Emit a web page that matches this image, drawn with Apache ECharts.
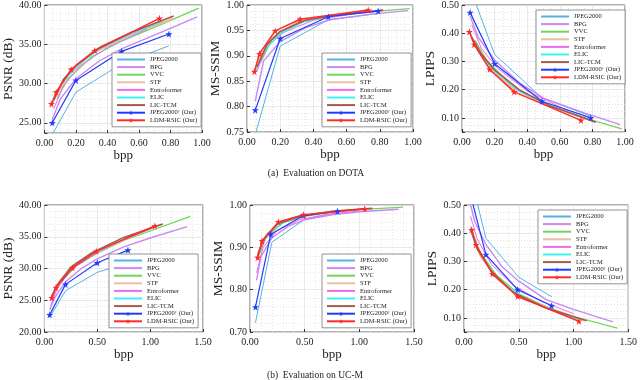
<!DOCTYPE html>
<html>
<head>
<meta charset="utf-8">
<script src="https://cdn.jsdelivr.net/npm/echarts@6/dist/echarts.min.js"></script>
<style>html,body{margin:0;padding:0;background:#fff}#main{width:640px;height:380px}</style>
</head>
<body>
<div id="main"></div>
<script>
// methods, in legend order
var methods = ['JPEG2000','BPG','VVC','STF','Entroformer','ELIC','LIC-TCM','JPEG2000† (Our)','LDM-RSIC (Our)'];
var colors  = ['#55b3e0','#c889f2','#6fd65a','#e6bfa6','#ee6bee','#3ff0f0','#a65a4c','#1f3cff','#ff2a2a'];
var widths  = [1, 1.4, 1.2, 2, 1, 1.3, 1.6, 1.2, 1.5];

// (a) DOTA -- [bpp, value] per method
var dotaPsnr = [
    [[0.05,23.5],[0.2,28.9],[0.49,32.5],[0.79,34.8]],
    [[0.05,25.4],[0.1,28.0],[0.2,30.6],[0.35,32.9],[0.5,34.5],[0.75,36.6],[0.97,38.5]],
    [[0.08,28.1],[0.15,30.6],[0.3,33.4],[0.5,35.5],[0.75,37.6],[0.98,39.6]],
    [[0.07,28.4],[0.15,31.0],[0.3,33.8],[0.5,35.8],[0.82,38.3]],
    [[0.06,26.8],[0.12,29.7],[0.22,32.1],[0.4,34.6],[0.65,36.9]],
    [[0.05,27.3],[0.1,29.7],[0.2,32.1],[0.35,34.4],[0.55,36.3],[0.75,37.9]],
    [[0.06,27.9],[0.12,30.5],[0.2,32.3],[0.35,34.6],[0.55,36.5],[0.82,38.6]],
    [[0.05,25.0],[0.2,30.4],[0.49,34.1],[0.79,36.3]],
    [[0.045,27.4],[0.075,28.9],[0.17,31.8],[0.32,34.2],[0.73,38.3]]
];
var dotaSsim = [
    [[0.05,0.745],[0.2,0.919],[0.49,0.971],[0.79,0.983]],
    [[0.05,0.811],[0.1,0.89],[0.2,0.928],[0.35,0.955],[0.5,0.971],[0.75,0.982],[0.97,0.989]],
    [[0.08,0.886],[0.15,0.932],[0.3,0.964],[0.5,0.978],[0.75,0.987],[0.98,0.993]],
    [[0.07,0.89],[0.15,0.935],[0.3,0.966],[0.5,0.979],[0.82,0.989]],
    [[0.06,0.87],[0.12,0.918],[0.22,0.946],[0.4,0.97],[0.65,0.983]],
    [[0.05,0.868],[0.1,0.908],[0.2,0.944],[0.35,0.968],[0.55,0.98],[0.75,0.987]],
    [[0.06,0.878],[0.12,0.922],[0.2,0.948],[0.35,0.97],[0.55,0.981],[0.82,0.99]],
    [[0.05,0.793],[0.2,0.934],[0.49,0.977],[0.79,0.988]],
    [[0.045,0.869],[0.075,0.904],[0.17,0.949],[0.32,0.972],[0.73,0.99]]
];
var dotaLpips = [
    [[0.05,0.56],[0.2,0.325],[0.49,0.171],[0.79,0.106]],
    [[0.05,0.46],[0.1,0.385],[0.2,0.305],[0.35,0.225],[0.5,0.17],[0.75,0.118],[0.97,0.076]],
    [[0.08,0.375],[0.15,0.305],[0.3,0.215],[0.5,0.152],[0.75,0.1],[0.98,0.061]],
    [[0.07,0.37],[0.15,0.295],[0.3,0.21],[0.5,0.15],[0.82,0.086]],
    [[0.06,0.43],[0.12,0.345],[0.22,0.275],[0.4,0.195],[0.65,0.125]],
    [[0.05,0.4],[0.1,0.335],[0.2,0.265],[0.35,0.195],[0.55,0.142],[0.75,0.1]],
    [[0.06,0.385],[0.12,0.325],[0.2,0.27],[0.35,0.2],[0.55,0.14],[0.82,0.085]],
    [[0.05,0.473],[0.2,0.292],[0.49,0.159],[0.79,0.1]],
    [[0.045,0.405],[0.075,0.36],[0.17,0.272],[0.32,0.192],[0.73,0.091]]
];

// (b) UC-M
var ucmPsnr = [
    [[0.05,22.3],[0.2,26.5],[0.5,29.4],[0.8,30.9]],
    [[0.05,23.5],[0.1,25.5],[0.2,27.9],[0.35,30.0],[0.5,31.5],[0.75,33.4],[1.0,34.8],[1.35,36.6]],
    [[0.08,25.8],[0.15,27.8],[0.3,30.4],[0.5,32.4],[0.75,34.4],[1.0,35.9],[1.38,38.2]],
    [[0.07,25.5],[0.15,28.0],[0.3,30.8],[0.5,32.6],[0.8,34.9],[1.1,36.9]],
    [[0.06,24.2],[0.12,26.8],[0.25,29.8],[0.45,32.0],[0.7,34.2],[1.0,36.2]],
    [[0.06,25.0],[0.1,26.8],[0.2,29.0],[0.35,31.3],[0.55,33.0],[0.8,35.0],[1.05,36.6]],
    [[0.07,25.6],[0.12,27.4],[0.25,30.2],[0.45,32.5],[0.75,34.9],[1.12,37.0]],
    [[0.05,22.7],[0.2,27.5],[0.5,30.9],[0.79,32.9]],
    [[0.07,25.4],[0.11,27.0],[0.265,30.1],[0.49,32.7],[1.045,36.7]]
];
var ucmSsim = [
    [[0.05,0.722],[0.2,0.912],[0.5,0.966],[0.8,0.982]],
    [[0.06,0.822],[0.1,0.878],[0.2,0.922],[0.35,0.95],[0.5,0.965],[0.75,0.977],[1.0,0.984],[1.36,0.99]],
    [[0.08,0.88],[0.15,0.925],[0.3,0.958],[0.5,0.973],[0.75,0.983],[1.0,0.989],[1.4,0.995]],
    [[0.07,0.885],[0.15,0.93],[0.3,0.962],[0.5,0.976],[0.8,0.986],[1.1,0.991]],
    [[0.06,0.84],[0.12,0.9],[0.25,0.94],[0.45,0.965],[0.7,0.978],[1.0,0.986]],
    [[0.06,0.87],[0.1,0.905],[0.2,0.942],[0.35,0.964],[0.55,0.977],[0.8,0.985],[1.05,0.99]],
    [[0.07,0.88],[0.12,0.917],[0.25,0.955],[0.45,0.973],[0.75,0.985],[1.12,0.992]],
    [[0.05,0.759],[0.19,0.931],[0.49,0.975],[0.8,0.985]],
    [[0.07,0.876],[0.11,0.915],[0.26,0.96],[0.49,0.977],[1.05,0.991]]
];
var ucmLpips = [
    [[0.05,0.62],[0.2,0.382],[0.5,0.244],[0.8,0.175]],
    [[0.06,0.5],[0.1,0.44],[0.2,0.36],[0.35,0.28],[0.5,0.23],[0.75,0.165],[1.0,0.13],[1.36,0.086]],
    [[0.08,0.4],[0.15,0.33],[0.3,0.25],[0.5,0.185],[0.75,0.14],[1.0,0.105],[1.4,0.064]],
    [[0.07,0.4],[0.15,0.32],[0.3,0.24],[0.5,0.18],[0.8,0.128],[1.1,0.092]],
    [[0.06,0.46],[0.12,0.38],[0.25,0.29],[0.45,0.215],[0.7,0.16],[1.0,0.115]],
    [[0.06,0.423],[0.1,0.36],[0.2,0.295],[0.35,0.225],[0.55,0.17],[0.8,0.128],[1.05,0.095]],
    [[0.07,0.405],[0.12,0.345],[0.25,0.265],[0.45,0.19],[0.75,0.135],[1.12,0.09]],
    [[0.05,0.55],[0.2,0.324],[0.49,0.2],[0.8,0.143]],
    [[0.07,0.412],[0.11,0.359],[0.26,0.256],[0.49,0.176],[1.05,0.088]]
];

var FONT = 'Liberation Serif';
var STAR = 'path://M0,-10L2.35,-3.24L9.51,-3.09L3.8,1.24L5.88,8.09L0,4L-5.88,8.09L-3.8,1.24L-9.51,-3.09L-2.35,-3.24Z';

// one entry per subplot: grid box, axes, legend corner
var panels = [
    {data: dotaPsnr,  box: [39, 4, 163, 129],  xmax: 1,   xint: 0.2, xminor: 4, yname: 'PSNR (dB)', ymin: 23.7, ymax: 40, ysplit: 3, yminor: 5, gap: 25, leg: [112, 53]},
    {data: dotaSsim,  box: [247, 4, 166, 128], xmax: 1,   xint: 0.2, xminor: 4, yname: 'MS-SSIM', ymin: 0.75, ymax: 1, yint: 0.05, yminor: 4, gap: 21.5, leg: [322, 53]},
    {data: dotaLpips, box: [462, 4, 163, 128], xmax: 1,   xint: 0.2, xminor: 4, yname: 'LPIPS', ymin: 0.05, ymax: 0.5, ysplit: 5, yminor: 4, gap: 18.5, leg: [536, 10]},
    {data: ucmPsnr,   box: [39, 205, 164, 127], xmax: 1.5, xint: 0.5, xminor: 5, yname: 'PSNR (dB)', ymin: 20, ymax: 40, yint: 5, yminor: 5, gap: 25, leg: [109, 254]},
    {data: ucmSsim,   box: [250, 205, 164, 127], xmax: 1.5, xint: 0.5, xminor: 5, yname: 'MS-SSIM', ymin: 0.7, ymax: 1, yint: 0.1, yminor: 5, gap: 21.5, leg: [322, 254]},
    {data: ucmLpips,  box: [464, 205, 165, 127], xmax: 1.5, xint: 0.5, xminor: 5, yname: 'LPIPS', ymin: 0.05, ymax: 0.5, ysplit: 5, yminor: 4, gap: 20.5, leg: [538, 210]}
];

var grid = [], xAxis = [], yAxis = [], legend = [], series = [];
var majorLine = {show: true, lineStyle: {color: '#e3e3e3', width: 0.8}};
var minorLine = {show: true, lineStyle: {color: '#dadada', width: 0.7, type: [1, 2]}};
var fix2 = function (v) { return v.toFixed(2); };

// legend entries: plain lines hide the default round marker
var legendData = methods.map(function (n, k) {
    return k >= 7 ? n : {name: n, itemStyle: {opacity: 0}};
});

panels.forEach(function (p, g) {
    grid.push({left: p.box[0], top: p.box[1], width: p.box[2], height: p.box[3],
        show: true, borderColor: '#3a3a3a', borderWidth: 0.8, backgroundColor: '#fff'});
    xAxis.push({
        type: 'value', gridIndex: g, min: 0, max: p.xmax, interval: p.xint,
        name: 'bpp', nameLocation: 'middle', nameGap: 16,
        nameTextStyle: {fontFamily: FONT, fontSize: 13, color: '#222'},
        axisLine: {show: false},
        axisTick: {inside: true, length: 3, lineStyle: {color: '#333'}},
        minorTick: {show: true, splitNumber: p.xminor, length: 0},
        axisLabel: {formatter: fix2, fontFamily: FONT, fontSize: 10, color: '#222', margin: 5},
        splitLine: majorLine, minorSplitLine: minorLine
    });
    var ya = {
        type: 'value', gridIndex: g, min: p.ymin, max: p.ymax,
        name: p.yname, nameLocation: 'middle', nameGap: p.gap,
        nameTextStyle: {fontFamily: FONT, fontSize: 13.5, color: '#222'},
        axisLine: {show: false},
        axisTick: {inside: true, length: 3, lineStyle: {color: '#333'}},
        minorTick: {show: true, splitNumber: p.yminor, length: 0},
        axisLabel: {formatter: fix2, fontFamily: FONT, fontSize: 10, color: '#222', margin: 3, showMinLabel: !p.ysplit},
        splitLine: majorLine, minorSplitLine: minorLine
    };
    if (p.yint) ya.interval = p.yint; else ya.splitNumber = p.ysplit;
    yAxis.push(ya);

    legend.push({
        orient: 'vertical', left: p.leg[0], top: p.leg[1], data: legendData,
        itemWidth: 28, itemHeight: 6, itemGap: 0.6, padding: [3, 4, 3, 4],
        borderColor: '#777', borderWidth: 0.8, backgroundColor: '#fff',
        selectedMode: false,
        formatter: function (n) { return n.replace('†', '{s|†}'); },
        textStyle: {fontFamily: FONT, fontSize: 6.5, lineHeight: 7, color: '#222',
            rich: {s: {fontFamily: FONT, fontSize: 4.5, lineHeight: 7, verticalAlign: 'top', color: '#222'}}}
    });

    p.data.forEach(function (pts, k) {
        var mark = k >= 7;
        series.push({
            name: methods[k], type: 'line', xAxisIndex: g, yAxisIndex: g, data: pts,
            symbol: mark ? STAR : 'none', symbolSize: 7, showSymbol: mark,
            lineStyle: {color: colors[k], width: widths[k]},
            itemStyle: {color: colors[k]},
            clip: true, silent: true
        });
    });
});

var chart = echarts.init(document.getElementById('main'), null, {renderer: 'canvas'});
chart.setOption({
    animation: false,
    grid: grid, xAxis: xAxis, yAxis: yAxis, legend: legend, series: series,
    graphic: [
        {type: 'text', x: 316, y: 173, style: {text: '(a)  Evaluation on DOTA', font: '9.5px "Liberation Serif"', fill: '#222', align: 'center', verticalAlign: 'middle', textAlign: 'center', textVerticalAlign: 'middle'}},
        {type: 'text', x: 315, y: 375, style: {text: '(b)  Evaluation on UC-M', font: '9.5px "Liberation Serif"', fill: '#222', align: 'center', verticalAlign: 'middle', textAlign: 'center', textVerticalAlign: 'middle'}}
    ]
});
</script>
</body>
</html>
